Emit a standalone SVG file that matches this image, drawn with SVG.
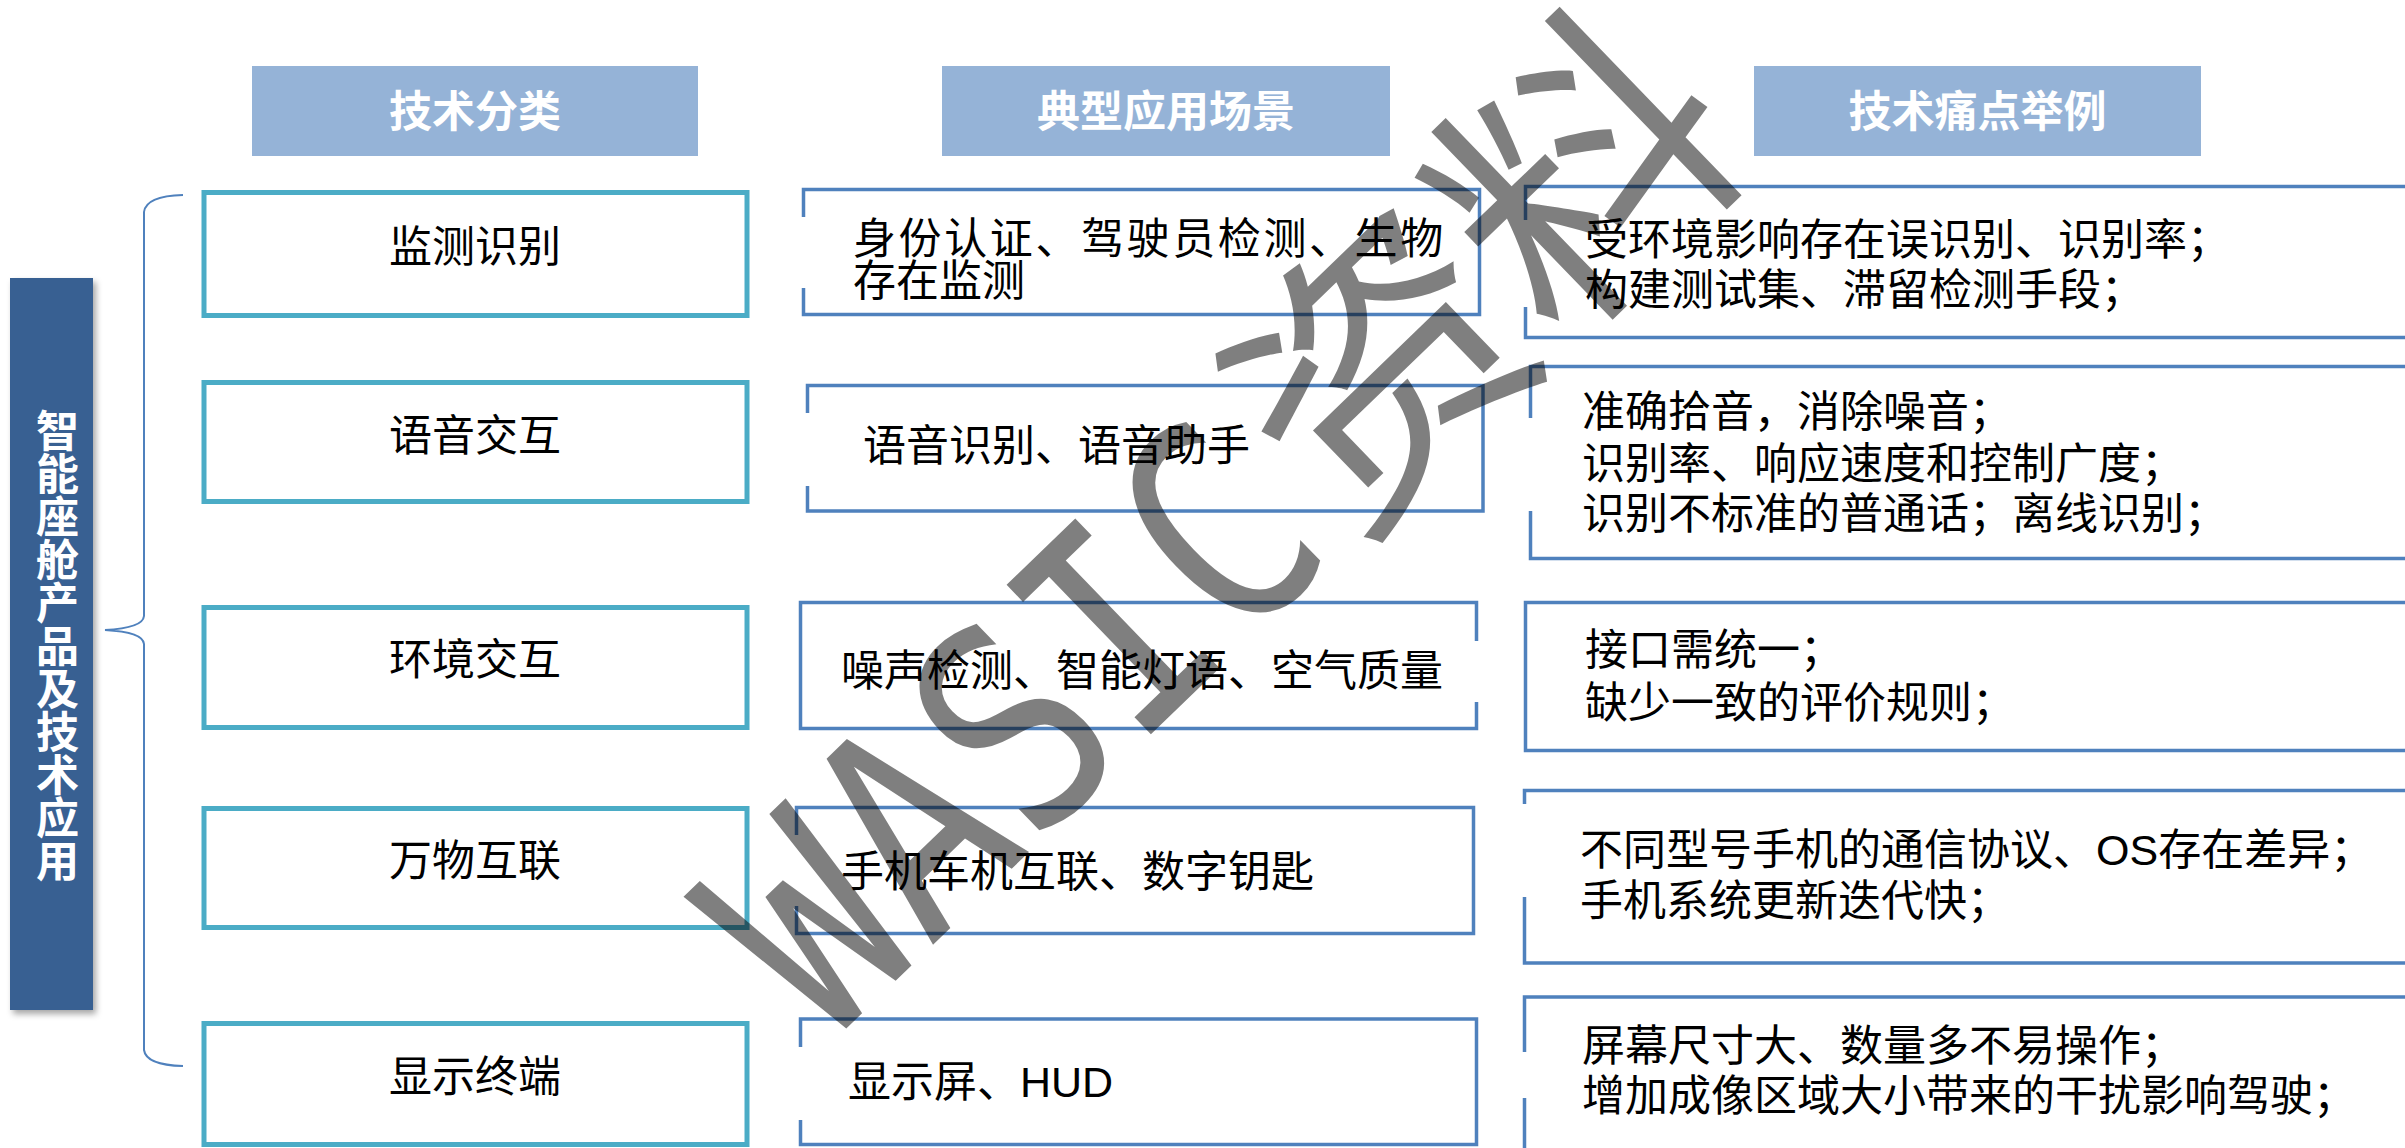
<svg xmlns="http://www.w3.org/2000/svg" width="2405" height="1148" viewBox="0 0 2405 1148">
<defs>
<style>
.hdr{fill:#95B3D7}
.hdrt{fill:#fff;font-family:"Liberation Sans","Noto Sans CJK SC",sans-serif;font-weight:bold;font-size:43px;text-anchor:middle}
.cat{fill:#fff;stroke:#4BACC6;stroke-width:5}
.catt{fill:#000;font-family:"Liberation Sans","Noto Sans CJK SC",sans-serif;font-size:43px;text-anchor:middle}
.box{fill:none;stroke:#4F81BD;stroke-width:3.5}
.txt{fill:#000;font-family:"Liberation Sans","Noto Sans CJK SC",sans-serif;font-size:43px}
</style>
<filter id="sh" x="-20%" y="-5%" width="150%" height="115%">
<feDropShadow dx="3" dy="4" stdDeviation="3" flood-color="#000" flood-opacity="0.35"/>
</filter>
</defs>
<rect width="2405" height="1148" fill="#fff"/>

<g id="root">
<rect x="10" y="278" width="83" height="732" fill="#376092" filter="url(#sh)"/>
<text x="57.5" y="646" writing-mode="vertical-rl" text-anchor="middle" fill="#fff" font-family="'Noto Sans CJK SC',sans-serif" font-weight="bold" font-size="43">智能座舱产品及技术应用</text>
</g>

<g id="connectors">
<path d="M183,195 Q146,196 144,212 L144,616 Q143,628 105,630 Q143,632 144,644 L144,1050 Q146,1065 183,1066" fill="none" stroke="#4F81BD" stroke-width="2"/>
</g>

<g id="header-1"><rect class="hdr" x="252" y="66" width="446" height="90"/><text class="hdrt" x="475" y="127">技术分类</text></g>
<g id="header-2"><rect class="hdr" x="942" y="66" width="448" height="90"/><text class="hdrt" x="1166" y="127">典型应用场景</text></g>
<g id="header-3"><rect class="hdr" x="1754" y="66" width="447" height="90"/><text class="hdrt" x="1977.5" y="127">技术痛点举例</text></g>

<g id="cat-1"><rect class="cat" x="204" y="192.5" width="543" height="123"/><text class="catt" x="475" y="262">监测识别</text></g>
<g id="cat-2"><rect class="cat" x="204" y="382.5" width="543" height="119"/><text class="catt" x="475" y="451">语音交互</text></g>
<g id="cat-3"><rect class="cat" x="204" y="607.5" width="543" height="120"/><text class="catt" x="475" y="675">环境交互</text></g>
<g id="cat-4"><rect class="cat" x="204" y="808.5" width="543" height="119"/><text class="catt" x="475" y="876">万物互联</text></g>
<g id="cat-5"><rect class="cat" x="204" y="1023.5" width="543" height="121"/><text class="catt" x="475" y="1092">显示终端</text></g>

<g id="app-1"><path class="box" d="M803.5,217 V189.5 H1479.5 V314.5 H803.5 V288"/>
<text class="txt"><tspan x="853" y="254" letter-spacing="2.6">身份认证、驾驶员检测、生物</tspan><tspan x="853" y="296">存在监测</tspan></text></g>
<g id="app-2"><path class="box" d="M807.5,413 V385.5 H1483 V511 H807.5 V486"/><text class="txt" x="863" y="461">语音识别、语音助手</text></g>
<g id="app-3"><path class="box" d="M1476.5,641 V602.5 H800.5 V728.5 H1476.5 V702"/><text class="txt" x="841" y="686">噪声检测、智能灯语、空气质量</text></g>
<g id="app-4"><path class="box" d="M796.5,835 V807.5 H1473.5 V933.5 H796.5 V906"/><text class="txt" x="841" y="887">手机车机互联、数字钥匙</text></g>
<g id="app-5"><path class="box" d="M800.5,1047 V1019 H1476.5 V1144.5 H800.5 V1120"/><text class="txt" x="848" y="1097">显示屏、HUD</text></g>

<g id="pain-1"><path class="box" d="M1525.5,220 V186.5 H2410 M2410,337.5 H1525.5 V307"/>
<text class="txt"><tspan x="1585" y="255">受环境影响存在误识别、识别率；</tspan><tspan x="1585" y="305">构建测试集、滞留检测手段；</tspan></text></g>
<g id="pain-2"><path class="box" d="M1530.5,418 V366.5 H2410 M2410,558.5 H1530.5 V511"/>
<text class="txt"><tspan x="1582" y="427">准确拾音，消除噪音；</tspan><tspan x="1582" y="478.5">识别率、响应速度和控制广度；</tspan><tspan x="1582" y="529">识别不标准的普通话；离线识别；</tspan></text></g>
<g id="pain-3"><path class="box" d="M2410,602.5 H1525.5 V750.5 H2410"/>
<text class="txt"><tspan x="1585" y="665">接口需统一；</tspan><tspan x="1585" y="718">缺少一致的评价规则；</tspan></text></g>
<g id="pain-4"><path class="box" d="M1524.5,804 V790.5 H2410 M2410,963 H1524.5 V897"/>
<text class="txt"><tspan x="1580" y="865">不同型号手机的通信协议、OS存在差异；</tspan><tspan x="1580" y="915.5">手机系统更新迭代快；</tspan></text></g>
<g id="pain-5"><path class="box" d="M1524.5,1052 V997 H2410 M1524.5,1098 V1150"/>
<text class="txt"><tspan x="1582" y="1061">屏幕尺寸大、数量多不易操作；</tspan><tspan x="1582" y="1111">增加成像区域大小带来的干扰影响驾驶；</tspan></text></g>

<g id="watermark">
<text transform="translate(853,1022) rotate(-44)" font-size="285" fill="#000" fill-opacity="0.5" font-family="'Noto Sans CJK SC',sans-serif"><tspan x="-35" y="0" font-family="'DejaVu Sans Mono',monospace" textLength="710" lengthAdjust="spacingAndGlyphs">WASIC</tspan><tspan x="690" y="0">资料</tspan></text>
</g>
</svg>
